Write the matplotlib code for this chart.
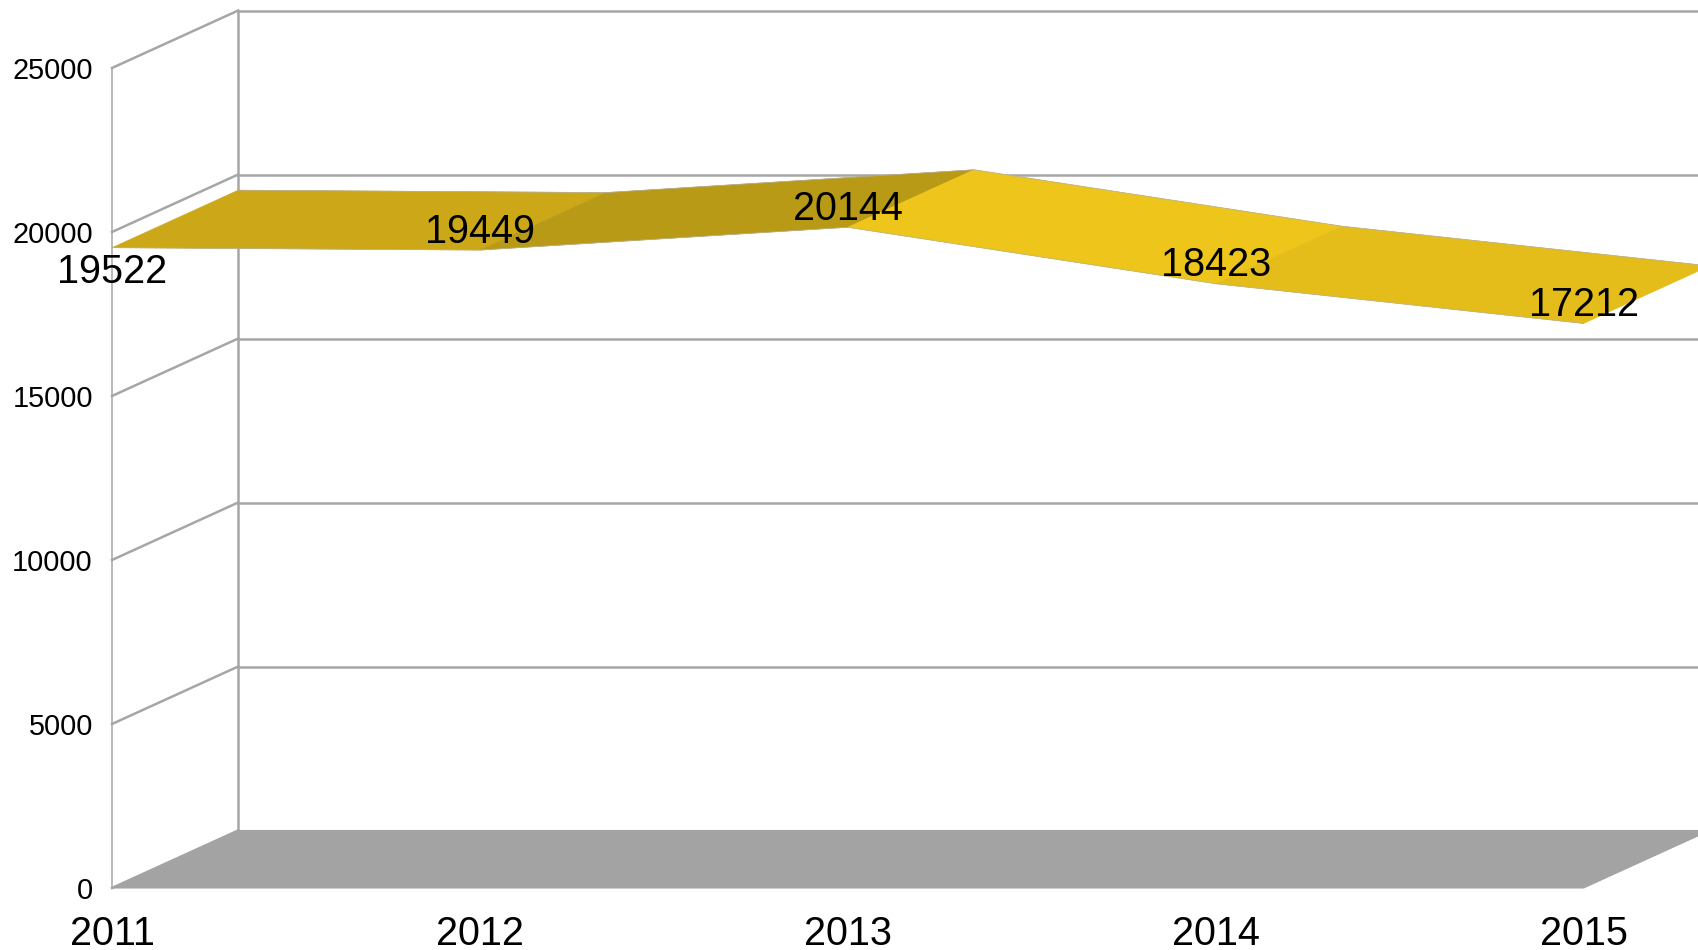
import matplotlib

matplotlib.use("Agg")
import matplotlib.pyplot as plt
from matplotlib.patches import Polygon

plt.rcParams["font.family"] = ["Liberation Sans", "DejaVu Sans"]

YEARS = ["2011", "2012", "2013", "2014", "2015"]
VALUES = [19522, 19449, 20144, 18423, 17212]
Y_TICKS = [0, 5000, 10000, 15000, 20000, 25000]

SEGMENT_COLORS = ["#CCA818", "#B99A16", "#EEC51B", "#E4BD1B"]
GRID_COLOR = "#A6A6A6"
FLOOR_COLOR = "#A3A3A3"
RIBBON_EDGE = "#B5AE98"

# oblique depth of the fake 3D box, in data units
DEPTH_X = 0.343
DEPTH_Y = 1753

# one data unit in pixels, used to line the axes up with the figure
PX_PER_CATEGORY = 367.9
PX_PER_VALUE = 0.0328
FRONT_X_PX = 112
FRONT_Y_PX = 888
WIDTH_PX = 1698
HEIGHT_PX = 950


def make_axes():
    fig = plt.figure(figsize=(WIDTH_PX / 100, HEIGHT_PX / 100), dpi=100, facecolor="white")
    ax = fig.add_axes([0, 0, 1, 1])
    ax.set_xlim(-FRONT_X_PX / PX_PER_CATEGORY, (WIDTH_PX - FRONT_X_PX) / PX_PER_CATEGORY)
    ax.set_ylim(-(HEIGHT_PX - FRONT_Y_PX) / PX_PER_VALUE, FRONT_Y_PX / PX_PER_VALUE)
    ax.axis("off")
    return fig, ax


def draw_box(ax):
    last = len(YEARS) - 1
    top = Y_TICKS[-1]

    floor = [(0, 0), (last, 0), (last + DEPTH_X, DEPTH_Y), (DEPTH_X, DEPTH_Y)]
    ax.add_patch(Polygon(floor, closed=True, facecolor=FLOOR_COLOR, edgecolor=FLOOR_COLOR, lw=0.8, zorder=2))

    for tick in Y_TICKS:
        # back wall line, then the slanted one on the side wall
        ax.plot([DEPTH_X, last + 2], [tick + DEPTH_Y] * 2, color=GRID_COLOR, lw=1.8, zorder=1)
        ax.plot([0, DEPTH_X], [tick, tick + DEPTH_Y], color=GRID_COLOR, lw=1.8, zorder=1)
        ax.text(-0.052, tick - 90, str(tick), ha="right", va="center", fontsize=20.8, color="black", zorder=5)

    ax.plot([0, 0], [0, top], color=GRID_COLOR, lw=1.1, zorder=1)
    ax.plot([DEPTH_X, DEPTH_X], [DEPTH_Y, top + DEPTH_Y], color=GRID_COLOR, lw=1.8, zorder=1)


def draw_ribbon(ax):
    xs = list(range(len(VALUES)))

    for i, color in enumerate(SEGMENT_COLORS):
        quad = [
            (xs[i], VALUES[i]),
            (xs[i + 1], VALUES[i + 1]),
            (xs[i + 1] + DEPTH_X, VALUES[i + 1] + DEPTH_Y),
            (xs[i] + DEPTH_X, VALUES[i] + DEPTH_Y),
        ]
        ax.add_patch(Polygon(quad, closed=True, facecolor=color, edgecolor=color, lw=0.4, zorder=3))

    ax.plot(xs, VALUES, color=RIBBON_EDGE, lw=0.5, zorder=3.5)
    ax.plot([x + DEPTH_X for x in xs], [v + DEPTH_Y for v in VALUES], color=RIBBON_EDGE, lw=0.5, zorder=3.5)


def draw_labels(ax):
    for i, (year, value) in enumerate(zip(YEARS, VALUES)):
        ax.text(i, -1390, year, ha="center", va="center", fontsize=28.5, color="black", zorder=5)

        # first label sits under the ribbon, the rest on it
        offset = -750 if i == 0 else 560
        ax.text(i, value + offset, str(value), ha="center", va="center", fontsize=28.5, color="black", zorder=5)


def main() -> None:
    fig, ax = make_axes()
    draw_box(ax)
    draw_ribbon(ax)
    draw_labels(ax)
    fig.savefig("out.png", dpi=100, facecolor="white")
    plt.close(fig)


if __name__ == "__main__":
    main()
